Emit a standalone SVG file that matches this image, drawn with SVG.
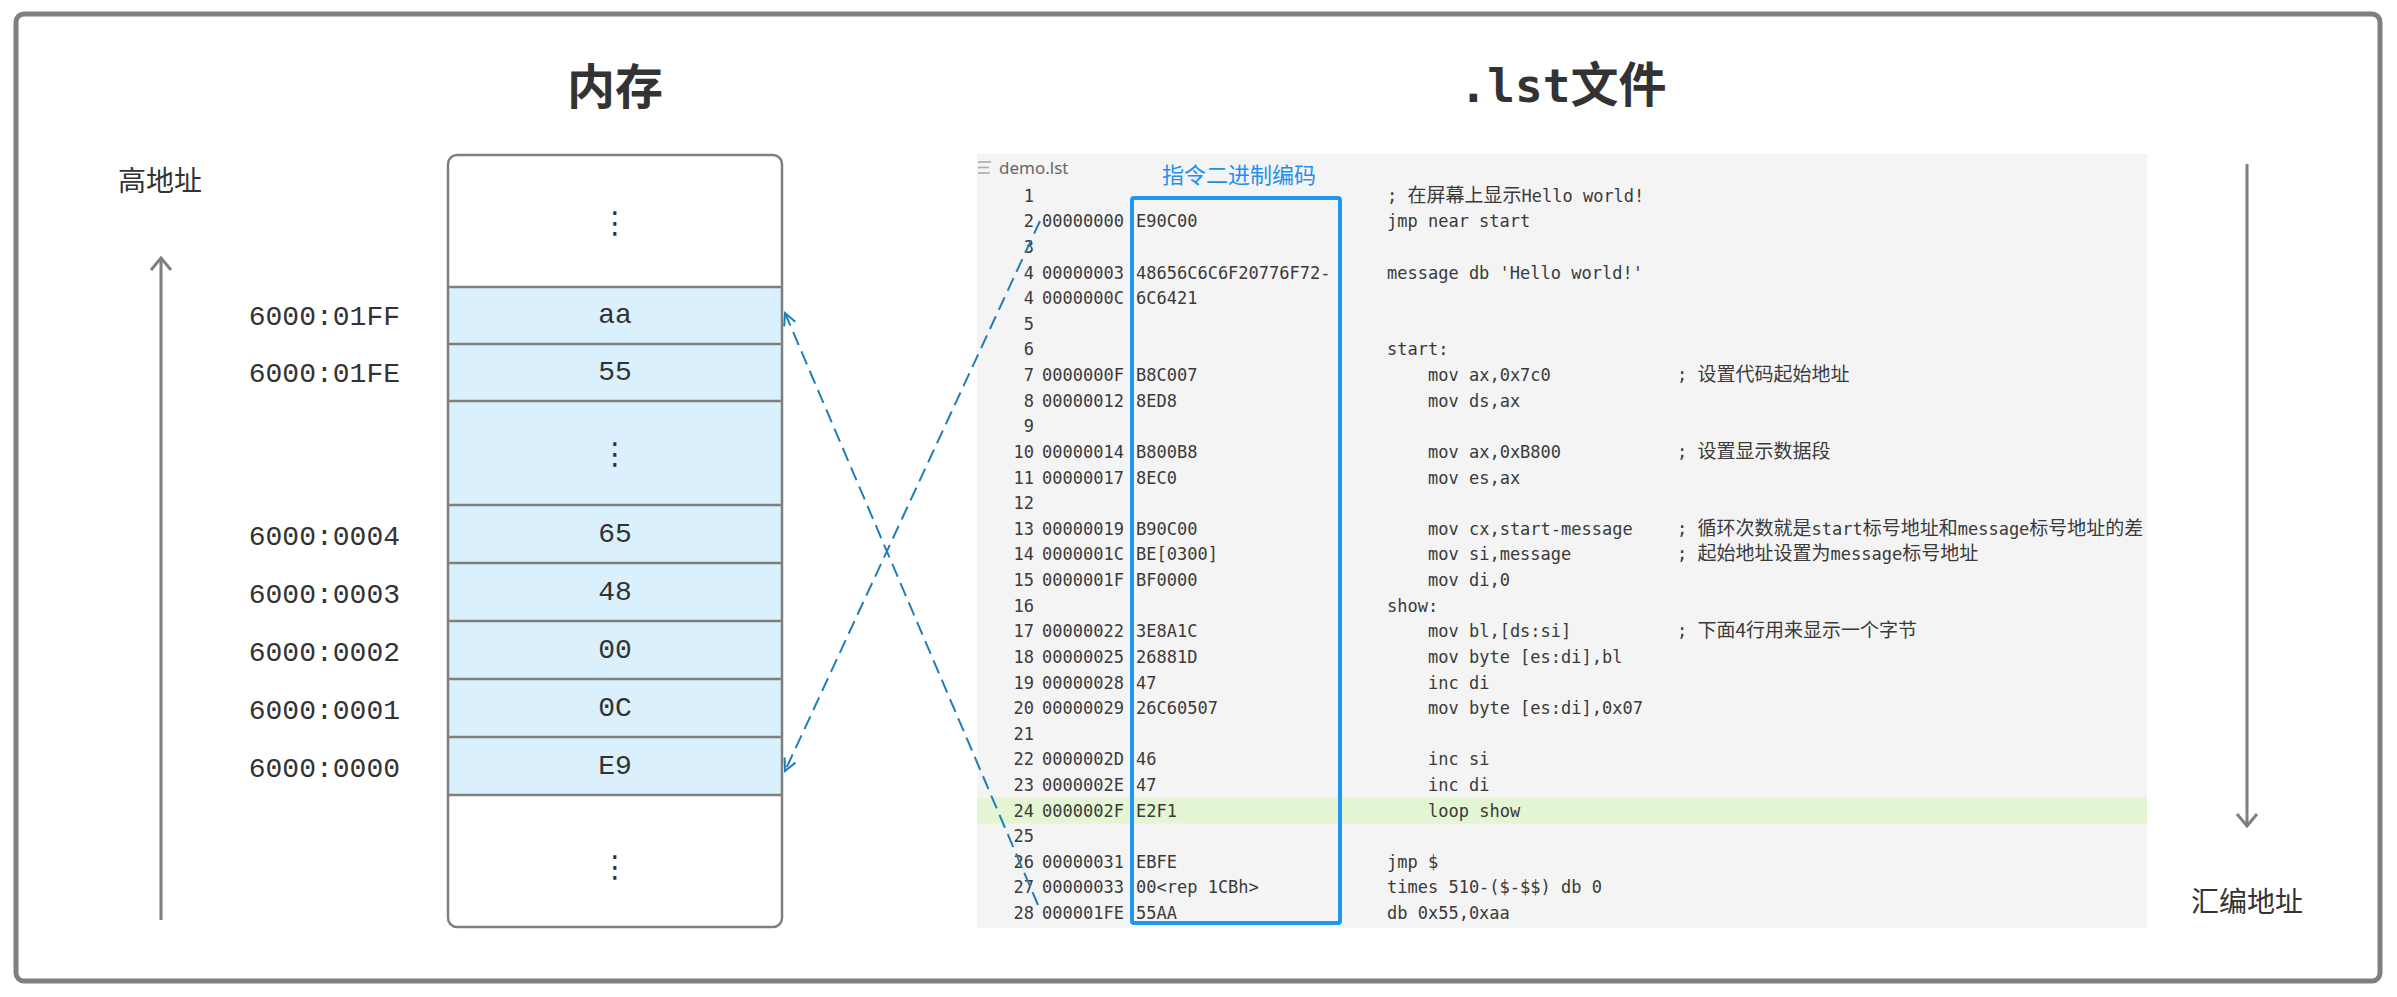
<svg xmlns="http://www.w3.org/2000/svg" width="2397" height="997" viewBox="0 0 2397 997">
<defs>
<style>
.title{font-family:"Noto Sans CJK SC","Noto Sans",sans-serif;font-weight:700;font-size:48px;fill:#333}
.tmono{font-family:"DejaVu Sans Mono",monospace;font-weight:700}
.lbl{font-family:"Noto Sans CJK SC",sans-serif;font-size:28px;fill:#333}
.addr{font-family:"Liberation Mono","DejaVu Sans Mono",monospace;font-size:28px;fill:#333;text-anchor:end}
.cell{font-family:"Liberation Mono","DejaVu Sans Mono",monospace;font-size:28px;fill:#333;text-anchor:middle}
.dots{font-family:"DejaVu Sans",sans-serif;font-size:30px;fill:#333;text-anchor:middle}
.code{font-family:"DejaVu Sans Mono","Noto Sans CJK SC",monospace;font-size:17px;fill:#3a3a3a}
.ln{text-anchor:end}
.cj{font-family:"Noto Sans CJK SC",sans-serif;font-size:19px}
.div{stroke:#7f7f7f;stroke-width:2.5}
.conn{fill:none;stroke:#1f7fb5;stroke-width:2;stroke-dasharray:14 7}
.axis{fill:none;stroke:#7f7f7f;stroke-width:3}
</style>
<marker id="arrB" viewBox="0 0 16 16" refX="14" refY="8" markerWidth="16" markerHeight="16" markerUnits="userSpaceOnUse" orient="auto">
<path d="M2,2 L14,8 L2,14" fill="none" stroke="#1f7fb5" stroke-width="2"/>
</marker>
<marker id="arrG" viewBox="0 0 16 24" refX="14" refY="12" markerWidth="16" markerHeight="24" markerUnits="userSpaceOnUse" orient="auto">
<path d="M2,2 L14,12 L2,22" fill="none" stroke="#7f7f7f" stroke-width="3"/>
</marker>
</defs>
<rect x="0" y="0" width="2397" height="997" fill="#fff"/>
<rect id="frame" x="16" y="14" width="2364" height="967" rx="8" fill="none" stroke="#7f7f7f" stroke-width="5"/>

<g id="title-mem"><text class="title" x="615" y="104" text-anchor="middle">内存</text></g>
<g id="title-lst"><text class="title" x="1563" y="102" text-anchor="middle"><tspan class="tmono" font-size="46">.lst</tspan>文件</text></g>

<g id="axis-left">
<line class="axis" x1="161" y1="920" x2="161" y2="258" marker-end="url(#arrG)"/>
<text class="lbl" x="160" y="191" text-anchor="middle">高地址</text>
</g>
<g id="axis-right">
<line class="axis" x1="2247" y1="164" x2="2247" y2="826" marker-end="url(#arrG)"/>
<text class="lbl" x="2247" y="912" text-anchor="middle">汇编地址</text>
</g>

<g id="memory">
<rect x="448" y="155" width="334" height="772" rx="9" fill="#fff"/>
<rect x="448" y="287" width="334" height="508" fill="#daf0fc"/>
<line class="div" x1="448" y1="287" x2="782" y2="287"/>
<line class="div" x1="448" y1="344" x2="782" y2="344"/>
<line class="div" x1="448" y1="401" x2="782" y2="401"/>
<line class="div" x1="448" y1="505" x2="782" y2="505"/>
<line class="div" x1="448" y1="563" x2="782" y2="563"/>
<line class="div" x1="448" y1="621" x2="782" y2="621"/>
<line class="div" x1="448" y1="679" x2="782" y2="679"/>
<line class="div" x1="448" y1="737" x2="782" y2="737"/>
<line class="div" x1="448" y1="795" x2="782" y2="795"/>
<rect x="448" y="155" width="334" height="772" rx="9" fill="none" stroke="#7f7f7f" stroke-width="2.5"/>
<text class="dots" x="615" y="233">⋮</text>
<text class="cell" x="615" y="323">aa</text>
<text class="cell" x="615" y="380">55</text>
<text class="dots" x="615" y="464">⋮</text>
<text class="cell" x="615" y="542">65</text>
<text class="cell" x="615" y="600">48</text>
<text class="cell" x="615" y="658">00</text>
<text class="cell" x="615" y="716">0C</text>
<text class="cell" x="615" y="774">E9</text>
<text class="dots" x="615" y="877">⋮</text>
</g>

<g id="mem-addrs">
<text class="addr" x="400" y="325">6000:01FF</text>
<text class="addr" x="400" y="382">6000:01FE</text>
<text class="addr" x="400" y="545">6000:0004</text>
<text class="addr" x="400" y="603">6000:0003</text>
<text class="addr" x="400" y="661">6000:0002</text>
<text class="addr" x="400" y="719">6000:0001</text>
<text class="addr" x="400" y="777">6000:0000</text>
</g>

<g id="lst-panel">
<rect x="977" y="154" width="1170" height="774" fill="#f4f4f4"/>
<rect x="977" y="798" width="1170" height="25.6" fill="#e3f5d3"/>
<g stroke="#aaa" stroke-width="1.6">
<line x1="978" y1="162" x2="991" y2="162"/>
<line x1="978" y1="167.5" x2="989" y2="167.5"/>
<line x1="978" y1="173" x2="990" y2="173"/>
</g>
<text x="999" y="174" font-family="'Noto Sans','Open Sans',sans-serif" font-size="17" fill="#666">demo.lst</text>
<text x="1162" y="183" font-family="'Noto Sans CJK SC',sans-serif" font-size="22" fill="#1e90f0">指令二进制编码</text>

<g class="code">
<text class="ln" x="1034" y="201.7">1</text>
<text class="ln" x="1034" y="227.3">2</text>
<text class="ln" x="1034" y="252.9">3</text>
<text class="ln" x="1034" y="278.6">4</text>
<text class="ln" x="1034" y="304.2">4</text>
<text class="ln" x="1034" y="329.8">5</text>
<text class="ln" x="1034" y="355.4">6</text>
<text class="ln" x="1034" y="381.0">7</text>
<text class="ln" x="1034" y="406.7">8</text>
<text class="ln" x="1034" y="432.3">9</text>
<text class="ln" x="1034" y="457.9">10</text>
<text class="ln" x="1034" y="483.5">11</text>
<text class="ln" x="1034" y="509.1">12</text>
<text class="ln" x="1034" y="534.8">13</text>
<text class="ln" x="1034" y="560.4">14</text>
<text class="ln" x="1034" y="586.0">15</text>
<text class="ln" x="1034" y="611.6">16</text>
<text class="ln" x="1034" y="637.2">17</text>
<text class="ln" x="1034" y="662.9">18</text>
<text class="ln" x="1034" y="688.5">19</text>
<text class="ln" x="1034" y="714.1">20</text>
<text class="ln" x="1034" y="739.7">21</text>
<text class="ln" x="1034" y="765.3">22</text>
<text class="ln" x="1034" y="791.0">23</text>
<text class="ln" x="1034" y="816.6">24</text>
<text class="ln" x="1034" y="842.2">25</text>
<text class="ln" x="1034" y="867.8">26</text>
<text class="ln" x="1034" y="893.4">27</text>
<text class="ln" x="1034" y="919.1">28</text>

<text x="1387" y="201.7">; <tspan class="cj">在屏幕上显示</tspan>Hello world!</text>
<text y="227.3"><tspan x="1042">00000000</tspan><tspan x="1136">E90C00</tspan><tspan x="1387">jmp near start</tspan></text>
<text y="278.6"><tspan x="1042">00000003</tspan><tspan x="1136">48656C6C6F20776F72-</tspan><tspan x="1387">message db 'Hello world!'</tspan></text>
<text y="304.2"><tspan x="1042">0000000C</tspan><tspan x="1136">6C6421</tspan></text>
<text x="1387" y="355.4">start:</text>
<text y="381.0"><tspan x="1042">0000000F</tspan><tspan x="1136">B8C007</tspan><tspan x="1428">mov ax,0x7c0</tspan><tspan x="1677">; </tspan><tspan class="cj">设置代码起始地址</tspan></text>
<text y="406.7"><tspan x="1042">00000012</tspan><tspan x="1136">8ED8</tspan><tspan x="1428">mov ds,ax</tspan></text>
<text y="457.9"><tspan x="1042">00000014</tspan><tspan x="1136">B800B8</tspan><tspan x="1428">mov ax,0xB800</tspan><tspan x="1677">; </tspan><tspan class="cj">设置显示数据段</tspan></text>
<text y="483.5"><tspan x="1042">00000017</tspan><tspan x="1136">8EC0</tspan><tspan x="1428">mov es,ax</tspan></text>
<text y="534.8"><tspan x="1042">00000019</tspan><tspan x="1136">B90C00</tspan><tspan x="1428">mov cx,start-message</tspan><tspan x="1677">; </tspan><tspan class="cj">循环次数就是</tspan>start<tspan class="cj">标号地址和</tspan>message<tspan class="cj">标号地址的差</tspan></text>
<text y="560.4"><tspan x="1042">0000001C</tspan><tspan x="1136">BE[0300]</tspan><tspan x="1428">mov si,message</tspan><tspan x="1677">; </tspan><tspan class="cj">起始地址设置为</tspan>message<tspan class="cj">标号地址</tspan></text>
<text y="586.0"><tspan x="1042">0000001F</tspan><tspan x="1136">BF0000</tspan><tspan x="1428">mov di,0</tspan></text>
<text x="1387" y="611.6">show:</text>
<text y="637.2"><tspan x="1042">00000022</tspan><tspan x="1136">3E8A1C</tspan><tspan x="1428">mov bl,[ds:si]</tspan><tspan x="1677">; </tspan><tspan class="cj">下面4行用来显示一个字节</tspan></text>
<text y="662.9"><tspan x="1042">00000025</tspan><tspan x="1136">26881D</tspan><tspan x="1428">mov byte [es:di],bl</tspan></text>
<text y="688.5"><tspan x="1042">00000028</tspan><tspan x="1136">47</tspan><tspan x="1428">inc di</tspan></text>
<text y="714.1"><tspan x="1042">00000029</tspan><tspan x="1136">26C60507</tspan><tspan x="1428">mov byte [es:di],0x07</tspan></text>
<text y="765.3"><tspan x="1042">0000002D</tspan><tspan x="1136">46</tspan><tspan x="1428">inc si</tspan></text>
<text y="791.0"><tspan x="1042">0000002E</tspan><tspan x="1136">47</tspan><tspan x="1428">inc di</tspan></text>
<text y="816.6"><tspan x="1042">0000002F</tspan><tspan x="1136">E2F1</tspan><tspan x="1428">loop show</tspan></text>
<text y="867.8"><tspan x="1042">00000031</tspan><tspan x="1136">EBFE</tspan><tspan x="1387">jmp $</tspan></text>
<text y="893.4"><tspan x="1042">00000033</tspan><tspan x="1136">00&lt;rep 1CBh&gt;</tspan><tspan x="1387">times 510-($-$$) db 0</tspan></text>
<text y="919.1"><tspan x="1042">000001FE</tspan><tspan x="1136">55AA</tspan><tspan x="1387">db 0x55,0xaa</tspan></text>
</g>
<rect id="hex-box" x="1132" y="198" width="208" height="725" rx="2" fill="none" stroke="#2196f3" stroke-width="4"/>
</g>

<g id="connectors">
<line class="conn" x1="1040" y1="221" x2="785" y2="771" marker-end="url(#arrB)"/>
<line class="conn" x1="1038" y1="905" x2="785" y2="313" marker-end="url(#arrB)"/>
</g>
</svg>
